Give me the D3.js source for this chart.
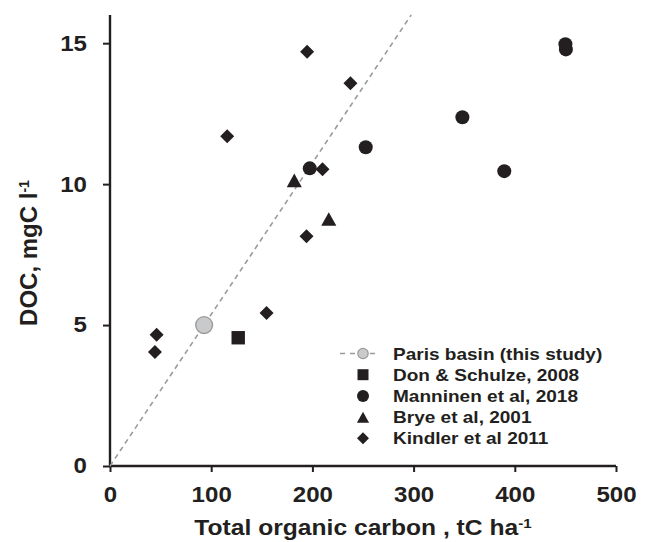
<!DOCTYPE html>
<html>
<head>
<meta charset="utf-8">
<script src="https://cdn.jsdelivr.net/npm/d3@7"></script>
<style>
  html, body { margin: 0; padding: 0; background: #fff; }
  svg { display: block; }
  text { font-family: "Liberation Sans", Arial, Helvetica, sans-serif; font-weight: bold; fill: #231f20; }
</style>
</head>
<body>
<svg id="chart" width="649" height="542"></svg>
<script>
// Total organic carbon (tC/ha) vs DOC (mgC/l), by study
const parisX = [93];
const parisY = [5.0];

const donX = [126.7];
const donY = [4.55];

const manninenX = [197.4, 252.7, 348.2, 389.6, 450.0, 450.5];
const manninenY = [10.56, 11.31, 12.37, 10.46, 14.96, 14.78];

const bryeX = [182.1, 216.2];
const bryeY = [10.12, 8.75];

const kindlerX = [194.8, 237.6, 115.8, 210.0, 194.2, 154.7, 46.1, 44.4];
const kindlerY = [14.70, 13.58, 11.70, 10.53, 8.15, 5.43, 4.66, 4.04];

// Dashed line through the origin and the Paris basin point
const lineX = [0, 297.6];
const lineY = [0, 16];

const xTicks = [0, 100, 200, 300, 400, 500];
const yTicks = [0, 5, 10, 15];

const legendLabels = [
  "Paris basin (this study)",
  "Don & Schulze, 2008",
  "Manninen et al, 2018",
  "Brye et al, 2001",
  "Kindler et al 2011"
];

const ink = "#231f20";
const grey = "#9a9a9a";
const greyFill = "#c9cacc";
const sx = 1.12; // horizontal stretch of the lettering

const svg = d3.select("#chart");
const margin = { left: 110, right: 33, top: 15, bottom: 76 };
const W = 649, H = 542;

const x = d3.scaleLinear().domain([0, 500]).range([margin.left, W - margin.right]);
const y = d3.scaleLinear().domain([0, 16]).range([H - margin.bottom, margin.top]);

// Axes
const xAxis = svg.append("g")
  .attr("transform", `translate(0,${y(0)})`)
  .call(d3.axisBottom(x).tickValues(xTicks).tickSize(6).tickPadding(15).tickFormat(d3.format("d")));
const yAxis = svg.append("g")
  .attr("transform", `translate(${x(0)},0)`)
  .call(d3.axisLeft(y).tickValues(yTicks).tickSize(7).tickPadding(16).tickFormat(d3.format("d")));

[xAxis, yAxis].forEach(g => {
  g.select(".domain").attr("stroke", ink).attr("stroke-width", 2.4);
  g.selectAll(".tick line").attr("stroke", ink).attr("stroke-width", 2);
  g.selectAll(".tick text")
    .attr("fill", ink)
    .style("font-size", "21.5px")
    .style("font-family", '"Liberation Sans", Arial, sans-serif')
    .style("font-weight", "bold");
});
yAxis.select(".domain").attr("d", `M0,${y(16)}V${y(0)}`);
xAxis.select(".domain").attr("d", `M${x(0)},0H${x(500)}`);
xAxis.selectAll(".tick text").attr("transform", `scale(${sx},1)`).attr("dy", "0.71em");
yAxis.selectAll(".tick text").each(function () {
  const t = d3.select(this);
  t.attr("x", -23 / sx).attr("transform", `scale(${sx},1)`);
});

// Axis titles
const xt = svg.append("text")
  .attr("transform", `translate(${(x(0) + x(500)) / 2},535) scale(${sx},1)`)
  .attr("text-anchor", "middle")
  .style("font-size", "22px");
xt.append("tspan").text("Total organic carbon , tC ha");
xt.append("tspan").attr("dy", "-0.55em").style("font-size", "13.5px").text("-1");

const yt = svg.append("text")
  .attr("transform", `translate(37,253) rotate(-90)`)
  .attr("text-anchor", "middle")
  .style("font-size", "24px");
yt.append("tspan").text("DOC, mgC l");
yt.append("tspan").attr("dy", "-0.55em").style("font-size", "14px").text("-1");

// Reference line
svg.append("line")
  .attr("x1", x(lineX[0])).attr("y1", y(lineY[0]))
  .attr("x2", x(lineX[1])).attr("y2", y(lineY[1]))
  .attr("stroke", grey).attr("stroke-width", 1.6)
  .attr("stroke-dasharray", "5,4");

// Marker shapes
const diamond = r => `M0,${-r}L${r},0L0,${r}L${-r},0Z`;
const triangle = r => `M0,${-r}L${r * 1.05},${r * 0.9}L${-r * 1.05},${r * 0.9}Z`;
const square = r => `M${-r},${-r}H${r}V${r}H${-r}Z`;

const pts = (xs, ys) => xs.map((v, i) => [v, ys[i]]);

svg.append("g").selectAll("path")
  .data(pts(kindlerX, kindlerY)).join("path")
  .attr("d", diamond(7))
  .attr("transform", d => `translate(${x(d[0])},${y(d[1])})`)
  .attr("fill", ink);

svg.append("g").selectAll("path")
  .data(pts(bryeX, bryeY)).join("path")
  .attr("d", triangle(7.2))
  .attr("transform", d => `translate(${x(d[0])},${y(d[1])})`)
  .attr("fill", ink);

svg.append("g").selectAll("circle")
  .data(pts(manninenX, manninenY)).join("circle")
  .attr("cx", d => x(d[0])).attr("cy", d => y(d[1])).attr("r", 7)
  .attr("fill", ink);

svg.append("g").selectAll("path")
  .data(pts(donX, donY)).join("path")
  .attr("d", square(6.7))
  .attr("transform", d => `translate(${x(d[0])},${y(d[1])})`)
  .attr("fill", ink);

svg.append("g").selectAll("circle")
  .data(pts(parisX, parisY)).join("circle")
  .attr("cx", d => x(d[0])).attr("cy", d => y(d[1])).attr("r", 8.4)
  .attr("fill", greyFill).attr("stroke", grey).attr("stroke-width", 1.4);

// Legend
const lg = svg.append("g").attr("transform", "translate(363,0)");
const rowY = [353.5, 374.7, 395.9, 417.1, 438.3];
lg.append("line").attr("x1", -23).attr("x2", 14).attr("y1", rowY[0]).attr("y2", rowY[0])
  .attr("stroke", grey).attr("stroke-width", 1.4).attr("stroke-dasharray", "5,5");
lg.append("circle").attr("cx", 0).attr("cy", rowY[0]).attr("r", 5.2)
  .attr("fill", greyFill).attr("stroke", grey).attr("stroke-width", 1.2);
lg.append("path").attr("d", square(5.5)).attr("transform", `translate(0,${rowY[1]})`).attr("fill", ink);
lg.append("circle").attr("cx", 0).attr("cy", rowY[2]).attr("r", 6).attr("fill", ink);
lg.append("path").attr("d", triangle(5.8)).attr("transform", `translate(0,${rowY[3] + 0.5})`).attr("fill", ink);
lg.append("path").attr("d", diamond(6)).attr("transform", `translate(0,${rowY[4]})`).attr("fill", ink);

lg.selectAll("text.lab")
  .data(legendLabels).join("text")
  .attr("class", "lab")
  .attr("transform", (d, i) => `translate(30,${rowY[i] + 6}) scale(${sx},1)`)
  .style("font-size", "17px")
  .text(d => d);
</script>
</body>
</html>
